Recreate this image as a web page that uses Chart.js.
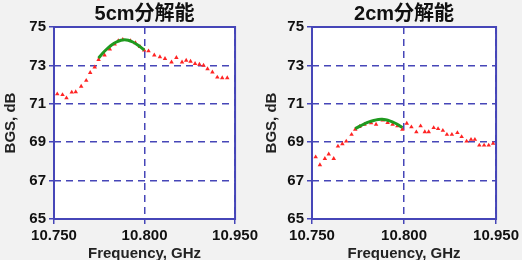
<!DOCTYPE html>
<html>
<head>
<meta charset="utf-8">
<script src="https://cdn.jsdelivr.net/npm/chart.js@4/dist/chart.umd.min.js"></script>
<style>
  body { margin: 0; background: #f2f2f2; width: 522px; height: 260px; overflow: hidden; }
  .painel { position: absolute; top: 0; width: 261px; height: 260px; }
</style>
</head>
<body>
<div class="painel" style="left:0"><canvas id="grafico5cm" width="261" height="260"></canvas></div>
<div class="painel" style="left:261px"><canvas id="grafico2cm" width="261" height="260"></canvas></div>
<script>
// eixos
const xTickValues = [10.75, 10.80, 10.85];
const xTickLabels = ['10.750', '10.800', '10.950'];
const yTickValues = [65, 67, 69, 71, 73, 75];

// 5cm - pontos medidos
const freq5 = [10.7518, 10.7547, 10.7569, 10.7598, 10.7620, 10.7650, 10.7678, 10.7700, 10.7725, 10.7746,
  10.7779, 10.7808, 10.7835, 10.7855, 10.7880, 10.7922, 10.7950, 10.7975, 10.7998, 10.8022,
  10.8054, 10.8085, 10.8113, 10.8149, 10.8176, 10.8207, 10.8230, 10.8254, 10.8279, 10.8303,
  10.8326, 10.8348, 10.8375, 10.8402, 10.8429, 10.8457];
const bgs5 = [71.51, 71.47, 71.30, 71.60, 71.62, 71.91, 72.21, 72.62, 72.91, 73.30,
  73.53, 73.85, 74.10, 74.28, 74.35, 74.28, 74.17, 73.98, 73.79, 73.75,
  73.53, 73.44, 73.35, 73.17, 73.40, 73.17, 73.26, 73.21, 73.09, 73.05,
  73.00, 72.82, 72.65, 72.38, 72.35, 72.35];
// 5cm - curva ajustada
const fitFreq5 = [10.7746, 10.7770, 10.7795, 10.7820, 10.7845, 10.7870, 10.7890, 10.7910, 10.7935, 10.7960, 10.7980, 10.7998];
const fitBgs5 = [73.38, 73.65, 73.88, 74.08, 74.22, 74.31, 74.33, 74.31, 74.22, 74.08, 73.94, 73.80];

// 2cm - pontos medidos
const freq2 = [10.7520, 10.7543, 10.7570, 10.7591, 10.7618, 10.7641, 10.7665, 10.7686, 10.7715, 10.7735,
  10.7758, 10.7785, 10.7821, 10.7848, 10.7884, 10.7911, 10.7938, 10.7964, 10.7991, 10.8015,
  10.8040, 10.8067, 10.8090, 10.8113, 10.8134, 10.8161, 10.8185, 10.8211, 10.8233, 10.8260,
  10.8290, 10.8313, 10.8340, 10.8364, 10.8385, 10.8409, 10.8435, 10.8460, 10.8484];
const bgs2 = [68.23, 67.82, 68.14, 68.38, 68.14, 68.79, 68.91, 69.05, 69.40, 69.67,
  69.81, 69.93, 70.00, 69.93, 70.14, 70.02, 69.93, 69.84, 69.67, 69.98,
  69.79, 69.53, 69.84, 69.54, 69.54, 69.75, 69.70, 69.61, 69.40, 69.40,
  69.49, 69.28, 69.05, 69.14, 69.14, 68.84, 68.84, 68.84, 68.93];
// 2cm - curva ajustada
const fitFreq2 = [10.7735, 10.7760, 10.7785, 10.7810, 10.7835, 10.7860, 10.7880, 10.7900, 10.7925, 10.7950, 10.7970, 10.7991];
const fitBgs2 = [69.70, 69.84, 69.96, 70.06, 70.13, 70.18, 70.19, 70.17, 70.10, 70.00, 69.90, 69.76];

const azul = '#4646b8';
const fonte = "'Liberation Sans', Arial, 'Noto Sans CJK JP', sans-serif";

// fundo branco e caixa azul a volta da area do grafico
const caixaPlugin = {
  id: 'caixa',
  beforeDraw(chart) {
    const a = chart.chartArea;
    chart.ctx.save();
    chart.ctx.fillStyle = '#ffffff';
    chart.ctx.fillRect(a.left, a.top, a.right - a.left, a.bottom - a.top);
    chart.ctx.restore();
  },
  afterDatasetsDraw(chart) {
    const a = chart.chartArea;
    const ctx = chart.ctx;
    ctx.save();
    ctx.strokeStyle = azul;
    ctx.lineWidth = 2;
    ctx.strokeRect(a.left, a.top, a.right - a.left, a.bottom - a.top);
    ctx.restore();
  }
};

function juntar(xs, ys) {
  return xs.map((x, i) => ({ x: x, y: ys[i] }));
}

function criarGrafico(canvasId, titulo, freqs, bgs, fitFreqs, fitBgs, larguraY, padDireita) {
  const ctx = document.getElementById(canvasId).getContext('2d');
  new Chart(ctx, {
    type: 'scatter',
    data: {
      datasets: [
        {
          label: 'ajuste',
          data: juntar(fitFreqs, fitBgs),
          showLine: true,
          borderColor: '#1f9a1f',
          borderWidth: 3,
          pointRadius: 0,
          tension: 0.3
        },
        {
          label: 'medido',
          data: juntar(freqs, bgs),
          pointStyle: 'triangle',
          pointRadius: 2.6,
          backgroundColor: '#ff2424',
          borderWidth: 0
        }
      ]
    },
    plugins: [caixaPlugin],
    options: {
      responsive: false,
      animation: false,
      layout: { padding: { right: padDireita, top: 0, bottom: 0, left: 0 } },
      plugins: {
        legend: { display: false },
        tooltip: { enabled: false },
        title: {
          display: true,
          fullSize: false,   // centra o titulo sobre a area do grafico
          text: titulo,
          color: '#111',
          font: { family: fonte, size: 20, weight: 'bold' },
          padding: { top: 2, bottom: 1 }
        }
      },
      scales: {
        x: {
          type: 'linear',
          min: 10.75,
          max: 10.85,
          afterBuildTicks: s => { s.ticks = xTickValues.map(v => ({ value: v })); },
          afterFit: s => { s.height = 41; },
          ticks: {
            color: '#111',
            padding: 3,
            maxRotation: 0,
            font: { family: fonte, size: 15, weight: 'bold' },
            callback: (v, i) => xTickLabels[i]
          },
          grid: { color: azul, lineWidth: 1.5, tickLength: 5, tickColor: azul, tickWidth: 1.5, tickBorderDash: [] },
          border: { display: false, dash: [7, 5] },
          title: {
            display: true,
            text: 'Frequency, GHz',
            color: '#222',
            font: { family: fonte, size: 15, weight: 'bold' },
            padding: { top: 0, bottom: -3 }
          }
        },
        y: {
          min: 65,
          max: 75,
          afterBuildTicks: s => { s.ticks = yTickValues.map(v => ({ value: v })); },
          afterFit: s => { s.width = larguraY; },
          ticks: {
            color: '#111',
            padding: 3,
            font: { family: fonte, size: 15, weight: 'bold' }
          },
          grid: { color: azul, lineWidth: 1.5, tickLength: 5, tickColor: azul, tickWidth: 1.5, tickBorderDash: [] },
          border: { display: false, dash: [7, 5] },
          title: {
            display: true,
            text: 'BGS, dB',
            color: '#222',
            font: { family: fonte, size: 15, weight: 'bold' },
            padding: { top: 2, bottom: 0 }
          }
        }
      }
    }
  });
}

criarGrafico('grafico5cm', '5cm分解能', freq5, bgs5, fitFreq5, fitBgs5, 54, 23);
criarGrafico('grafico2cm', '2cm分解能', freq2, bgs2, fitFreq2, fitBgs2, 51, 24);
</script>
</body>
</html>
